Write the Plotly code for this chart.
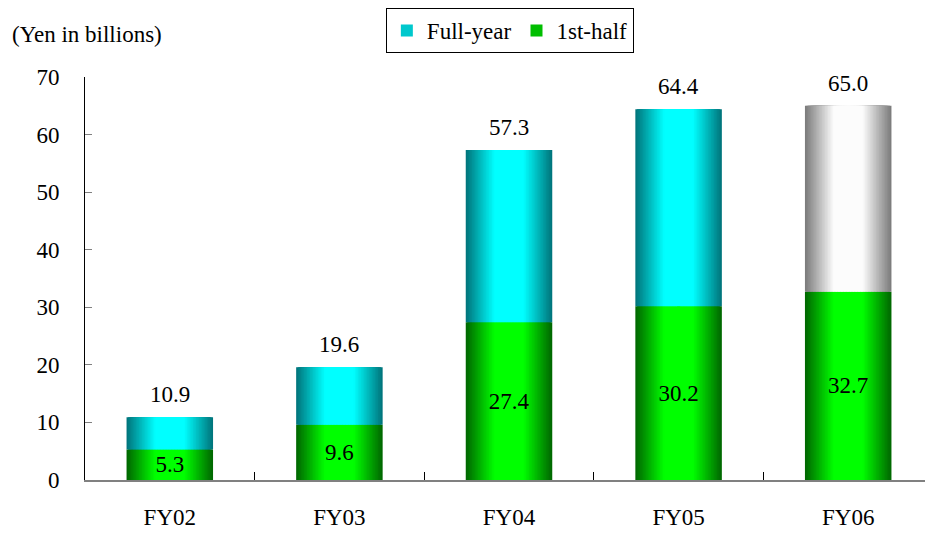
import plotly.graph_objects as go

# ---------------- data ----------------
categories = ["FY02", "FY03", "FY04", "FY05", "FY06"]
full_year = [10.9, 19.6, 57.3, 64.4, 65.0]
first_half = [5.3, 9.6, 27.4, 30.2, 32.7]
full_year_labels = ["10.9", "19.6", "57.3", "64.4", "65.0"]
first_half_labels = ["5.3", "9.6", "27.4", "30.2", "32.7"]
y_ticks = [0, 10, 20, 30, 40, 50, 60, 70]
unit_label = "(Yen in billions)"
series_names = ["Full-year", "1st-half"]

# ---------------- style ----------------
FONT = "Liberation Serif, Times New Roman, serif"
FS = 23
BAR_W = 0.51
N_LAYERS = 28
# top segment: cyan for actuals, grey for the forecast year
top_edge = [(0, 118, 125)] * 4 + [(125, 125, 125)]
top_center = [(0, 255, 255)] * 4 + [(252, 252, 252)]
green_edge = (0, 105, 0)
green_center = (0, 255, 0)


def mix(a, b, t):
    return "rgb(%d,%d,%d)" % tuple(round(a[i] + (b[i] - a[i]) * t) for i in range(3))


second_half = [f - h for f, h in zip(full_year, first_half)]

fig = go.Figure()

# gradient imitation: overlapping bars of decreasing width, lightening toward the centre
for k in range(N_LAYERS):
    frac = 1 - k / N_LAYERS
    t = min(1.0, k / (0.65 * N_LAYERS))
    fig.add_trace(go.Bar(
        x=categories, y=first_half, width=BAR_W * frac,
        marker=dict(color=mix(green_edge, green_center, t), line=dict(width=0)),
        showlegend=False, hoverinfo="skip"))
    fig.add_trace(go.Bar(
        x=categories, y=second_half, base=first_half, width=BAR_W * frac,
        marker=dict(color=[mix(e, c, t) for e, c in zip(top_edge, top_center)],
                    line=dict(width=0)),
        showlegend=False, hoverinfo="skip"))

# inside labels for the 1st-half values
fig.add_trace(go.Bar(
    x=categories, y=first_half, width=BAR_W,
    marker=dict(color="rgba(0,0,0,0)", line=dict(width=0)),
    text=first_half_labels, textposition="inside", insidetextanchor="middle",
    constraintext="none",
    textfont=dict(family=FONT, size=FS, color="black"),
    showlegend=False, hoverinfo="skip"))

# legend entries
fig.add_trace(go.Bar(x=[None], y=[None], name=series_names[0],
                     marker=dict(color="rgb(0,200,205)", line=dict(width=0))))
fig.add_trace(go.Bar(x=[None], y=[None], name=series_names[1],
                     marker=dict(color="rgb(0,190,0)", line=dict(width=0))))

# total labels above the bars
for c, v, lab in zip(categories, full_year, full_year_labels):
    fig.add_annotation(x=c, y=v, text=lab, showarrow=False, yanchor="bottom",
                       yshift=8, font=dict(family=FONT, size=FS, color="black"))

fig.add_annotation(xref="paper", yref="paper", x=-0.0885, y=1.106, xanchor="left",
                   yanchor="middle", text=unit_label, showarrow=False,
                   font=dict(family=FONT, size=FS, color="black"))

# the page adds an 8px body margin, so the figure is 8px smaller and shifted
fig.update_layout(
    width=925, height=525,
    margin=dict(l=77, r=0, t=65, b=53),
    barmode="overlay",
    plot_bgcolor="white", paper_bgcolor="white",
    font=dict(family=FONT, size=FS, color="black"),
    showlegend=True,
    legend=dict(orientation="h", x=0.501, xanchor="center", y=1.172, yanchor="top",
                bordercolor="black", borderwidth=1, traceorder="normal",
                font=dict(family=FONT, size=FS, color="black"),
                itemwidth=30),
    xaxis=dict(type="category", categoryorder="array", categoryarray=categories,
               showline=True, linecolor="#808080", linewidth=1.5,
               ticks="inside", tickson="boundaries", ticklen=8, tickcolor="black",
               ticklabelstandoff=16, showgrid=False, zeroline=False),
    yaxis=dict(range=[0, 70], tickvals=y_ticks, showline=True, linecolor="black",
               linewidth=1, ticks="inside", ticklen=7, tickcolor="#808080",
               ticklabelstandoff=20, showgrid=False, zeroline=False),
)

fig.write_html("out.html")
